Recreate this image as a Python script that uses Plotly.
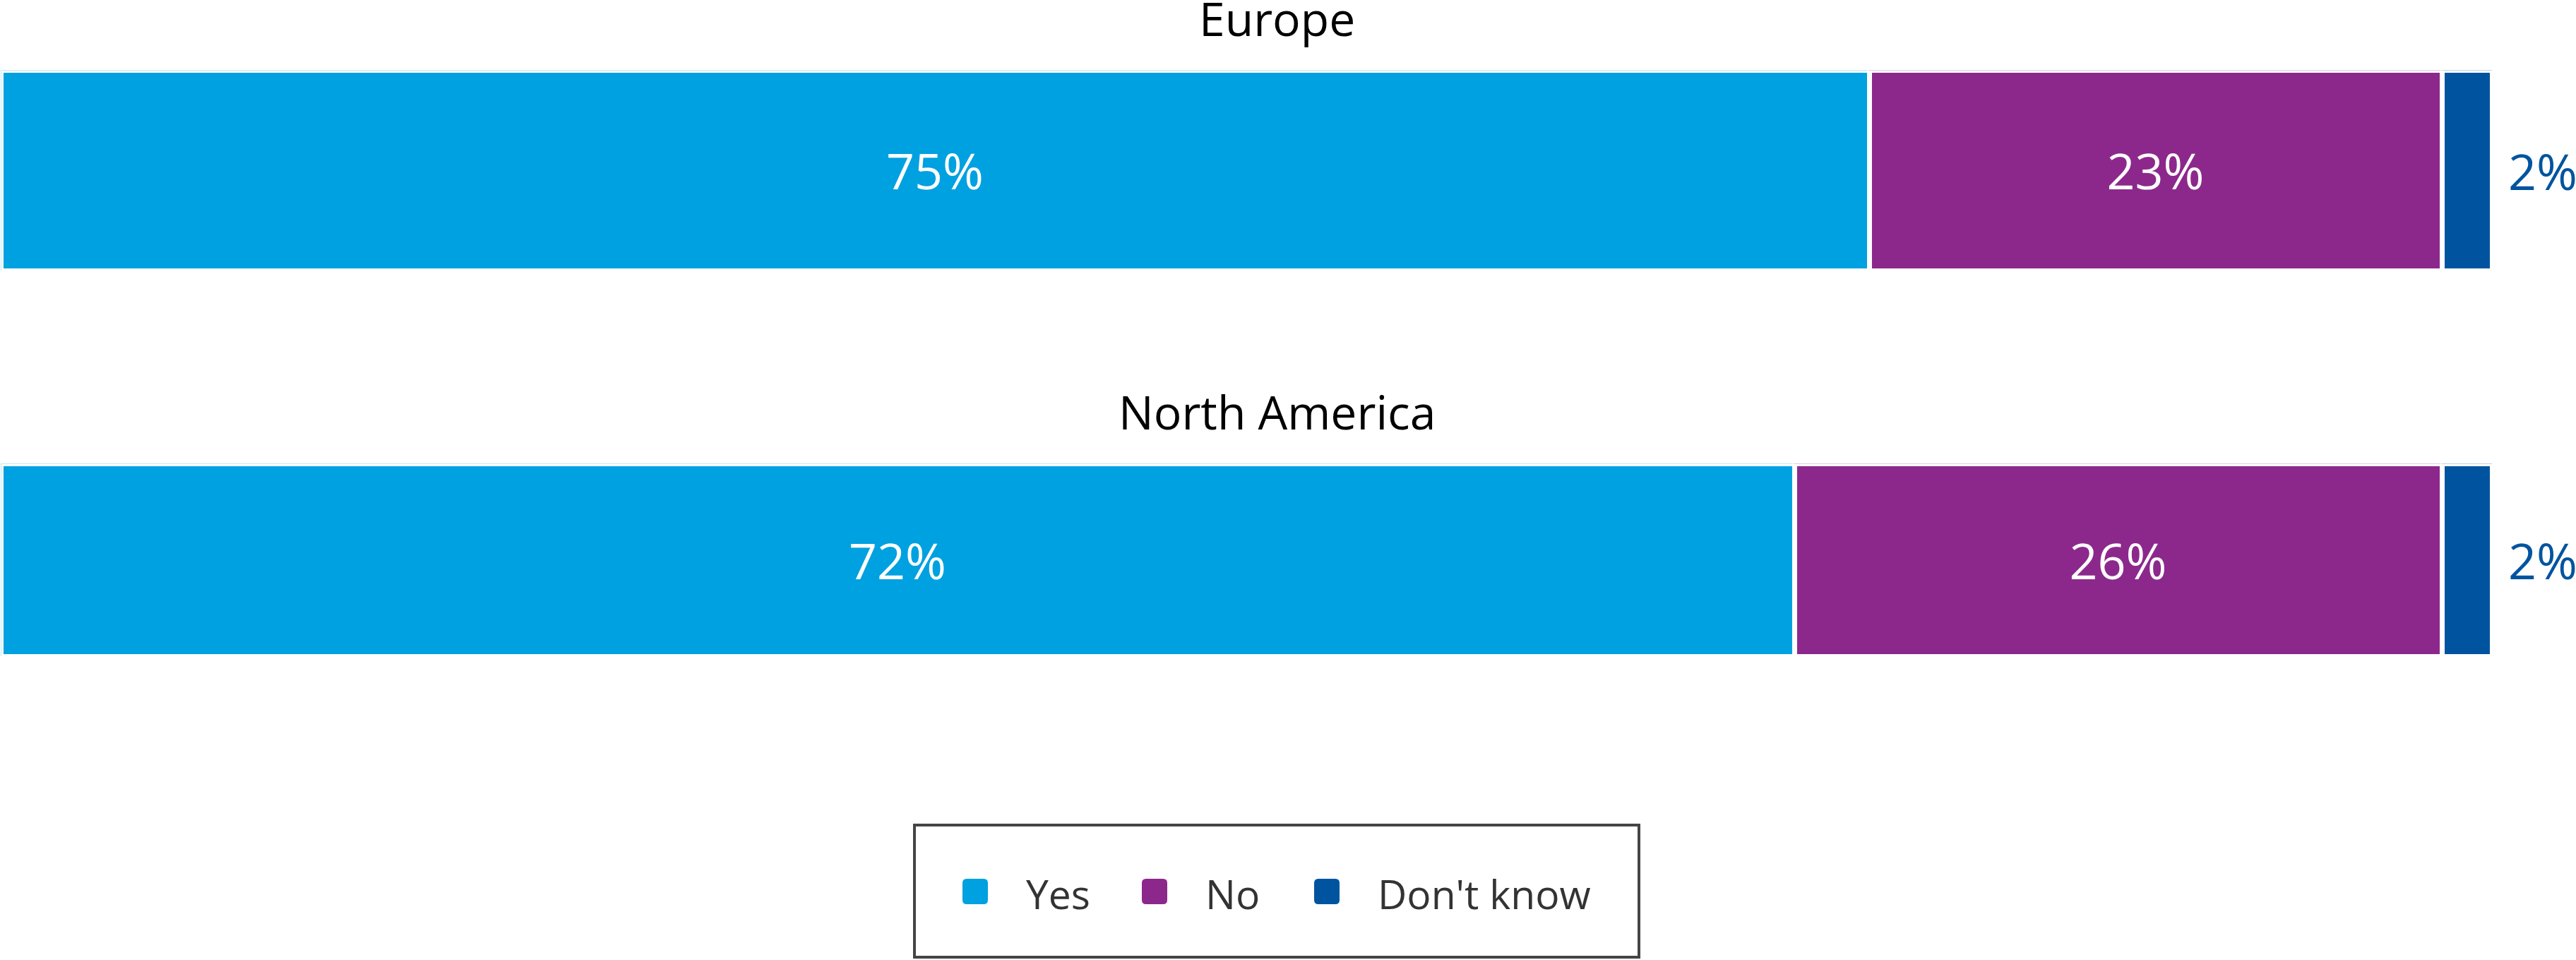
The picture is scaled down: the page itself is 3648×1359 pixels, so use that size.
import plotly.graph_objects as go
from plotly.subplots import make_subplots

# survey answers per region (percent)
regions = ["Europe", "North America"]
answers = ["Yes", "No", "Don't know"]
yes_pct = [75, 72]
no_pct = [23, 26]
dont_know_pct = [2, 2]
colors = ["#00A1E0", "#8C288C", "#00549F"]

W, H = 3648, 1359
FONT = "Open Sans, sans-serif"


def fx(p):
    # pixel -> paper x
    return p / W


def fy(p):
    # pixel (from top) -> paper y
    return 1 - p / H


series = [yes_pct, no_pct, dont_know_pct]
LW = 7  # white separator between segments

fig = make_subplots(rows=2, cols=1)

for r, region in enumerate(regions, start=1):
    i = r - 1
    for name, vals, col in zip(answers, series, colors):
        v = vals[i]
        inside = name != "Don't know"
        fig.add_trace(go.Bar(
            x=[v], y=[region], orientation="h", name=name,
            marker=dict(color=col, line=dict(color="white", width=LW)),
            text=[f"{v}%"] if inside else None,
            textposition="inside" if inside else "none",
            insidetextanchor="middle",
            textfont=dict(color="white", size=70, family=FONT),
            showlegend=False, hoverinfo="x+name",
        ), row=r, col=1)

    # small share sits outside the bar end
    total = yes_pct[i] + no_pct[i] + dont_know_pct[i]
    suffix = "" if r == 1 else str(r)
    fig.add_annotation(
        x=total, y=region, xref="x" + suffix, yref="y" + suffix,
        text=f"{dont_know_pct[i]}%", showarrow=False,
        xanchor="left", xshift=20,
        font=dict(size=70, color=colors[2], family=FONT),
    )

# bar extents in pixels (top, bottom) for each region
bar_px = [(103, 380), (660, 926)]
title_px = [25, 582]
half = LW / 2

fig.update_xaxes(range=[0, 100], visible=False, fixedrange=True,
                 domain=[fx(5 - half), fx(3526 + half)])
fig.update_yaxes(range=[-0.5, 0.5], visible=False, fixedrange=True)
fig.update_layout(
    yaxis=dict(domain=[fy(bar_px[0][1] + half), fy(bar_px[0][0] - half)]),
    yaxis2=dict(domain=[fy(bar_px[1][1] + half), fy(bar_px[1][0] - half)]),
)

for region, ty in zip(regions, title_px):
    fig.add_annotation(
        x=fx(1808), y=fy(ty), xref="paper", yref="paper",
        text=region, showarrow=False, xanchor="center", yanchor="middle",
        font=dict(size=66, color="#000000", family=FONT),
    )

# legend drawn by hand so the swatch size and spacing match
swatch_cx = [1381, 1635, 1879]
legend_cy = 1262
sw = 18
rr = 6
swatch_path = (f"M {-sw + rr},{-sw} L {sw - rr},{-sw} Q {sw},{-sw} {sw},{-sw + rr} "
               f"L {sw},{sw - rr} Q {sw},{sw} {sw - rr},{sw} L {-sw + rr},{sw} "
               f"Q {-sw},{sw} {-sw},{sw - rr} L {-sw},{-sw + rr} Q {-sw},{-sw} {-sw + rr},{-sw} Z")

fig.add_shape(type="rect", xref="paper", yref="paper",
              x0=fx(1295), x1=fx(2321), y0=fy(1355), y1=fy(1168),
              line=dict(color="#454545", width=4), fillcolor="rgba(0,0,0,0)")

for name, col, cx in zip(answers, colors, swatch_cx):
    fig.add_shape(type="path", xref="paper", yref="paper",
                  xsizemode="pixel", ysizemode="pixel",
                  xanchor=fx(cx), yanchor=fy(legend_cy),
                  path=swatch_path, fillcolor=col, line=dict(width=0))
    fig.add_annotation(
        x=fx(cx + 70), y=fy(legend_cy + 3), xref="paper", yref="paper",
        text=name, showarrow=False, xanchor="left", yanchor="middle",
        font=dict(size=57, color="#333333", family=FONT),
    )

fig.update_layout(
    width=W, height=H,
    margin=dict(l=0, r=0, t=0, b=0),
    barmode="stack", bargap=0,
    plot_bgcolor="white", paper_bgcolor="white",
    showlegend=False,
    font=dict(family=FONT),
)

fig.write_html("out.html", config={"displayModeBar": False},
               post_script="document.body.style.margin='0';document.body.style.overflow='hidden';")
